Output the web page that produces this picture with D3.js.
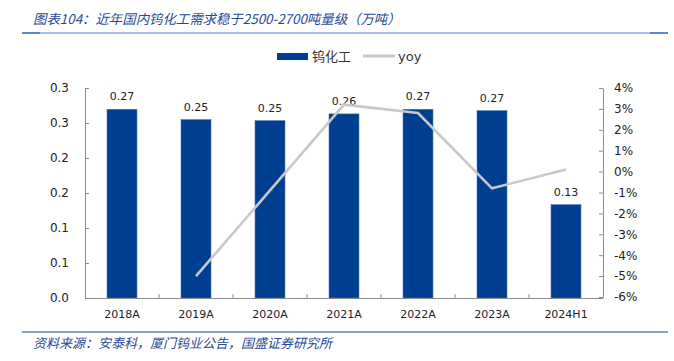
<!DOCTYPE html>
<html>
<head>
<meta charset="utf-8">
<script src="https://cdn.jsdelivr.net/npm/d3@7"></script>
<style>
  body { margin: 0; background: #fff; }
  svg { display: block; }
</style>
</head>
<body>
<script>
const categories = ["2018A", "2019A", "2020A", "2021A", "2022A", "2023A", "2024H1"];
const demand = [0.2696, 0.2549, 0.2533, 0.263, 0.2696, 0.2676, 0.1333];
const yoyCats = ["2019A", "2020A", "2021A", "2022A", "2023A", "2024H1"];
const yoy = [-0.050, -0.009, 0.032, 0.028, -0.008, 0.001];
const leftTicks = [0, 0.05, 0.10, 0.15, 0.20, 0.25, 0.30];
const leftTickLabels = ["0.0", "0.1", "0.1", "0.2", "0.2", "0.3", "0.3"];
const rightTicks = [-0.06, -0.05, -0.04, -0.03, -0.02, -0.01, 0, 0.01, 0.02, 0.03, 0.04];

document.addEventListener("DOMContentLoaded", () => {

  const w = 674;
  const h = 361;
  const left = 85, right = 603, top = 88, bottom = 298;
  const blue = "#003e92";
  const grey = "#c8c8c8";
  const axisCol = "#8c8c8c";
  const numFont = "'DejaVu Sans', sans-serif";
  const cjkFont = "'Noto Sans CJK SC', sans-serif";

  const svg = d3.select("body")
  .append("svg")
  .attr("width", w)
  .attr("height", h);

  // title + rules
  svg.append("text")
  .attr("x", 33)
  .attr("y", 24)
  .text("图表104：近年国内钨化工需求稳于2500-2700吨量级（万吨）")
  .style("font-family", cjkFont)
  .style("font-style", "italic")
  .style("font-size", "13.4px")
  .style("fill", "#1f4a96");

  svg.append("line")
  .attr("x1", 22).attr("x2", 668)
  .attr("y1", 33).attr("y2", 33)
  .attr("stroke", "#a9c0e2")
  .attr("stroke-width", 2);

  svg.append("line")
  .attr("x1", 22).attr("x2", 40)
  .attr("y1", 33).attr("y2", 33)
  .attr("stroke", "#5b86c6")
  .attr("stroke-width", 2);

  svg.append("line")
  .attr("x1", 650).attr("x2", 668)
  .attr("y1", 33).attr("y2", 33)
  .attr("stroke", "#5b86c6")
  .attr("stroke-width", 2);

  svg.append("line")
  .attr("x1", 22).attr("x2", 668)
  .attr("y1", 332).attr("y2", 332)
  .attr("stroke", "#5b86c6")
  .attr("stroke-width", 1.5);

  svg.append("text")
  .attr("x", 33)
  .attr("y", 348)
  .text("资料来源：安泰科，厦门钨业公告，国盛证券研究所")
  .style("font-family", cjkFont)
  .style("font-style", "italic")
  .style("font-size", "13px")
  .style("fill", "#1f4a96");

  // scales
  const x = d3.scaleBand()
  .domain(categories)
  .range([left, right])
  .paddingInner(0.595)
  .paddingOuter(0.2975);

  const y = d3.scaleLinear()
  .domain([0, 0.30])
  .range([bottom, top]);

  const y2 = d3.scaleLinear()
  .domain([-0.06, 0.04])
  .range([bottom - 1, top]);

  // bars
  svg.selectAll("rect.bar")
  .data(demand)
  .enter()
  .append("rect")
  .attr("class", "bar")
  .attr("x", (d, i) => x(categories[i]))
  .attr("y", (d) => y(d))
  .attr("width", x.bandwidth())
  .attr("height", (d) => bottom - y(d))
  .attr("fill", blue)
  .attr("stroke", "#4a72b4")
  .attr("stroke-width", 0.6);

  svg.selectAll("text.val")
  .data(demand)
  .enter()
  .append("text")
  .attr("class", "val")
  .attr("x", (d, i) => x(categories[i]) + x.bandwidth() / 2)
  .attr("y", (d) => y(d) - 9)
  .attr("text-anchor", "middle")
  .text((d) => d3.format(".2f")(d))
  .style("font-family", numFont)
  .style("font-size", "11px")
  .style("fill", "#222");

  // yoy line
  const line = d3.line()
  .x((d, i) => x(yoyCats[i]) + x.bandwidth() / 2)
  .y((d) => y2(d));

  svg.append("path")
  .datum(yoy)
  .attr("d", line)
  .attr("fill", "none")
  .attr("stroke", grey)
  .attr("stroke-width", 2.6);

  // left axis
  const gl = svg.append("g")
  .attr("transform", `translate(${left},0)`)
  .call(d3.axisLeft(y)
    .tickValues(leftTicks)
    .tickFormat((d, i) => leftTickLabels[i])
    .tickSizeInner(-4)
    .tickSizeOuter(0)
    .tickPadding(16));

  // right axis
  const gr = svg.append("g")
  .attr("transform", `translate(${right},0)`)
  .call(d3.axisRight(y2)
    .tickValues(rightTicks)
    .tickFormat((d) => d3.format(".0%")(d).replace("−", "-"))
    .tickSizeInner(-4)
    .tickSizeOuter(0)
    .tickPadding(11));

  // bottom axis
  const gb = svg.append("g")
  .attr("transform", `translate(0,${bottom})`)
  .call(d3.axisBottom(x)
    .tickSize(0)
    .tickPadding(12));

  svg.selectAll("line.sep")
  .data(categories.slice(1))
  .enter()
  .append("line")
  .attr("class", "sep")
  .attr("x1", (d) => x(d) - x.step() * x.paddingInner() / 2)
  .attr("x2", (d) => x(d) - x.step() * x.paddingInner() / 2)
  .attr("y1", bottom)
  .attr("y2", bottom - 4)
  .attr("stroke", axisCol);

  [gl, gr, gb].forEach((g) => {
    g.select(".domain").attr("stroke", axisCol);
    g.selectAll(".tick line").attr("stroke", axisCol);
    g.selectAll(".tick text")
    .style("font-family", numFont)
    .style("font-size", "12px")
    .style("fill", "#222");
  });
  gb.selectAll(".tick text").style("font-size", "11px");

  // legend
  svg.append("rect")
  .attr("x", 277)
  .attr("y", 53)
  .attr("width", 31)
  .attr("height", 7)
  .attr("fill", blue);

  svg.append("text")
  .attr("x", 312)
  .attr("y", 61)
  .text("钨化工")
  .style("font-family", cjkFont)
  .style("font-size", "13px")
  .style("fill", "#333");

  svg.append("line")
  .attr("x1", 363).attr("x2", 395)
  .attr("y1", 56).attr("y2", 56)
  .attr("stroke", grey)
  .attr("stroke-width", 3);

  svg.append("text")
  .attr("x", 398)
  .attr("y", 61)
  .text("yoy")
  .style("font-family", numFont)
  .style("font-size", "13px")
  .style("fill", "#333");

});
</script>
</body>
</html>
